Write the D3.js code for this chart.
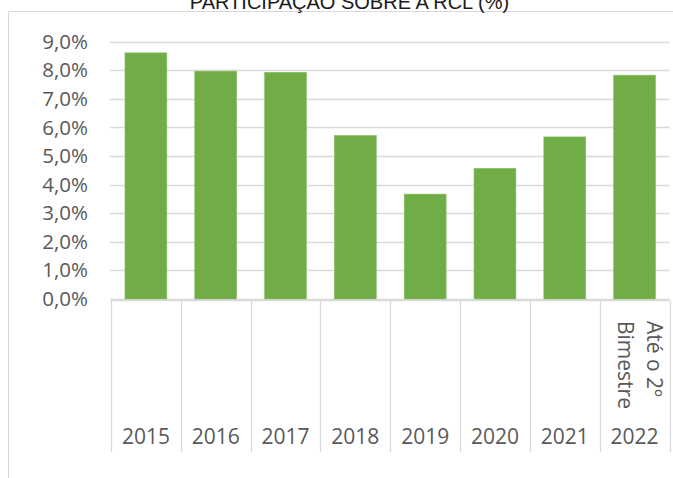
<!DOCTYPE html>
<html>
<head>
<meta charset="utf-8">
<script src="https://cdn.jsdelivr.net/npm/d3@7"></script>
<style>
  body { margin: 0; background: #fff; }
  svg { display: block; }
</style>
</head>
<body>
<div id="chart"></div>
<script>
// data
var years = ["2015", "2016", "2017", "2018", "2019", "2020", "2021", "2022"]
var subLabels = [[], [], [], [], [], [], [], ["Até o 2º", "Bimestre"]]
var values = [8.61, 7.97, 7.93, 5.72, 3.67, 4.57, 5.67, 7.83]
var yTicks = [0, 1, 2, 3, 4, 5, 6, 7, 8, 9]
var title = "PARTICIPAÇÃO SOBRE A RCL (%)"

var width = 673,
    height = 478

var svg = d3.select("#chart").append("svg")
    .attr("width", width)
    .attr("height", height)

var gridColor = "#d9d9d9",
    textColor = "#595959",
    font = "'Open Sans', sans-serif"

// chart frame (only top and left edges are in view)
svg.append("line")
    .attr("x1", 8.5).attr("x2", width)
    .attr("y1", 11.5).attr("y2", 11.5)
    .attr("stroke", gridColor)
svg.append("line")
    .attr("x1", 8.5).attr("x2", 8.5)
    .attr("y1", 11.5).attr("y2", height)
    .attr("stroke", gridColor)

// title, mostly cropped off the top like in the source
svg.append("text")
    .attr("x", 349.5)
    .attr("y", 9)
    .attr("text-anchor", "middle")
    .attr("font-family", "'Liberation Sans', Arial, sans-serif")
    .attr("font-size", 20)
    .attr("fill", "#1a1a1a")
    .text(title)

var xScale = d3.scaleBand()
    .domain(years)
    .range([111, 669.5])
    .paddingInner(0.4)
    .paddingOuter(0.2)

var yScale = d3.scaleLinear()
    .domain([0, 9])
    .range([299, 41.7])

// gridlines
svg.append("g")
    .selectAll("line")
    .data(yTicks)
    .enter().append("line")
    .attr("x1", 110)
    .attr("x2", 669.5)
    .attr("y1", function(d) { return Math.round(yScale(d)) + 0.5 })
    .attr("y2", function(d) { return Math.round(yScale(d)) + 0.5 })
    .attr("stroke", gridColor)
    .attr("stroke-width", 1.3)

// y axis labels
var yAxis = d3.axisLeft(yScale)
    .tickValues(yTicks)
    .tickSize(0)
    .tickPadding(0)
    .tickFormat(function(d) { return d3.format(".1f")(d).replace(".", ",") + "%" })

var yG = svg.append("g")
    .attr("transform", "translate(88,0)")
    .call(yAxis)
yG.select(".domain").remove()
yG.selectAll("text")
    .attr("font-family", font)
    .attr("font-size", 20.5)
    .attr("fill", textColor)

// bars
svg.append("g")
    .selectAll("rect")
    .data(values)
    .enter().append("rect")
    .attr("x", function(d, i) { return xScale(years[i]) })
    .attr("width", xScale.bandwidth())
    .attr("y", function(d) { return yScale(d) })
    .attr("height", function(d) { return yScale(0) - yScale(d) })
    .attr("fill", "#70ad47")
    .attr("stroke", "#8cbf6a")
    .attr("stroke-width", 0.6)

// category axis: baseline plus separators between categories
var step = xScale.step()
var edges = years.map(function(d) { return xScale(d) - xScale.paddingOuter() * step })
edges.push(xScale.range()[1])

svg.append("line")
    .attr("x1", 111).attr("x2", 669.5)
    .attr("y1", 300.5).attr("y2", 300.5)
    .attr("stroke", gridColor)
    .attr("stroke-width", 1.3)

svg.append("g")
    .selectAll("line")
    .data(edges)
    .enter().append("line")
    .attr("x1", function(d) { return Math.round(d) + 0.5 })
    .attr("x2", function(d) { return Math.round(d) + 0.5 })
    .attr("y1", 300.5)
    .attr("y2", 452)
    .attr("stroke", gridColor)
    .attr("stroke-width", 1.3)

// year labels
svg.append("g")
    .selectAll("text")
    .data(years)
    .enter().append("text")
    .attr("x", function(d) { return xScale(d) + xScale.bandwidth() / 2 })
    .attr("y", 443.5)
    .attr("text-anchor", "middle")
    .attr("font-family", font)
    .attr("font-size", 21)
    .attr("fill", textColor)
    .text(function(d) { return d })

// rotated sub labels (only 2022 has one)
years.forEach(function(yr, i) {
  var cx = xScale(yr) + xScale.bandwidth() / 2
  subLabels[i].forEach(function(line, j) {
    svg.append("text")
      .attr("transform", "translate(" + (cx + 12 - j * 29) + ",321) rotate(90)")
      .attr("text-anchor", "start")
      .attr("font-family", font)
      .attr("font-size", 21)
      .attr("fill", textColor)
      .text(line)
  })
})
</script>
</body>
</html>
